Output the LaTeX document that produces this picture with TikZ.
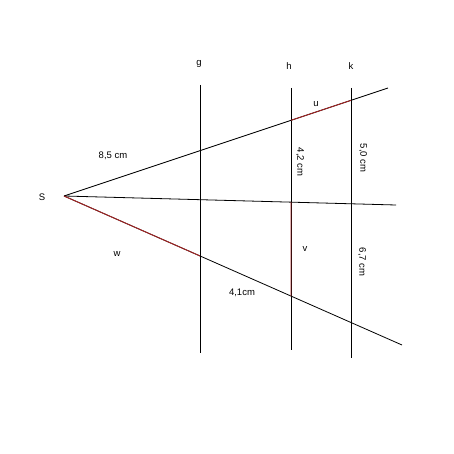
\documentclass[tikz,border=0pt]{standalone}
\usepackage{fontspec}
\setmainfont{Liberation Sans}
\definecolor{segred}{RGB}{165,35,35}
\begin{document}
\begin{tikzpicture}[x=1pt,y=-1pt,
  ray/.style={black,line width=0.8pt},
  seg/.style={segred,line width=0.9pt},
  lab/.style={font=\fontsize{9.5}{11}\selectfont,inner sep=0pt}]
\useasboundingbox (0,0) rectangle (454,454);
\coordinate (S) at (64,196);
\coordinate (A) at (388,88);
\coordinate (B) at (396,205);
\coordinate (C) at (402,345);
\coordinate (gt) at (200,85);
\coordinate (gb) at (200,353);
\coordinate (ht) at (291,88);
\coordinate (hb) at (291,350);
\coordinate (kt) at (351,88);
\coordinate (kb) at (351,358);
\coordinate (hu) at (intersection of S--A and ht--hb);
\coordinate (ku) at (intersection of S--A and kt--kb);
\coordinate (hm) at (intersection of S--B and ht--hb);
\coordinate (hl) at (intersection of S--C and ht--hb);
\coordinate (gl) at (intersection of S--C and gt--gb);
\draw[ray] (gt) -- (gb);
\draw[ray] (ht) -- (hb);
\draw[ray] (kt) -- (kb);
\draw[ray] (S) -- (A);
\draw[ray] (S) -- (B);
\draw[ray] (S) -- (C);
\draw[seg] (hu) -- (ku);
\draw[seg] (hm) -- (hl);
\draw[seg] (S) -- (gl);
\node[lab] (lS) at (42,197) {S};
\node[lab] (lg) at (199,64) {g};
\node[lab] (lh) at (289,66) {h};
\node[lab] (lk) at (351,66) {k};
\node[lab] (l85) at (113,156) {8,5 cm};
\node[lab] (lu) at (316,104) {u};
\node[lab,rotate=-90] (l42) at (300,162) {4,2 cm};
\node[lab,rotate=-90] (l50) at (363,158) {5,0 cm};
\node[lab] (lv) at (305,249) {v};
\node[lab,rotate=-90] (l67) at (362,262) {6,7 cm};
\node[lab] (lw) at (117,254) {w};
\node[lab] (l41) at (242,293) {4,1cm};
\end{tikzpicture}
\end{document}
